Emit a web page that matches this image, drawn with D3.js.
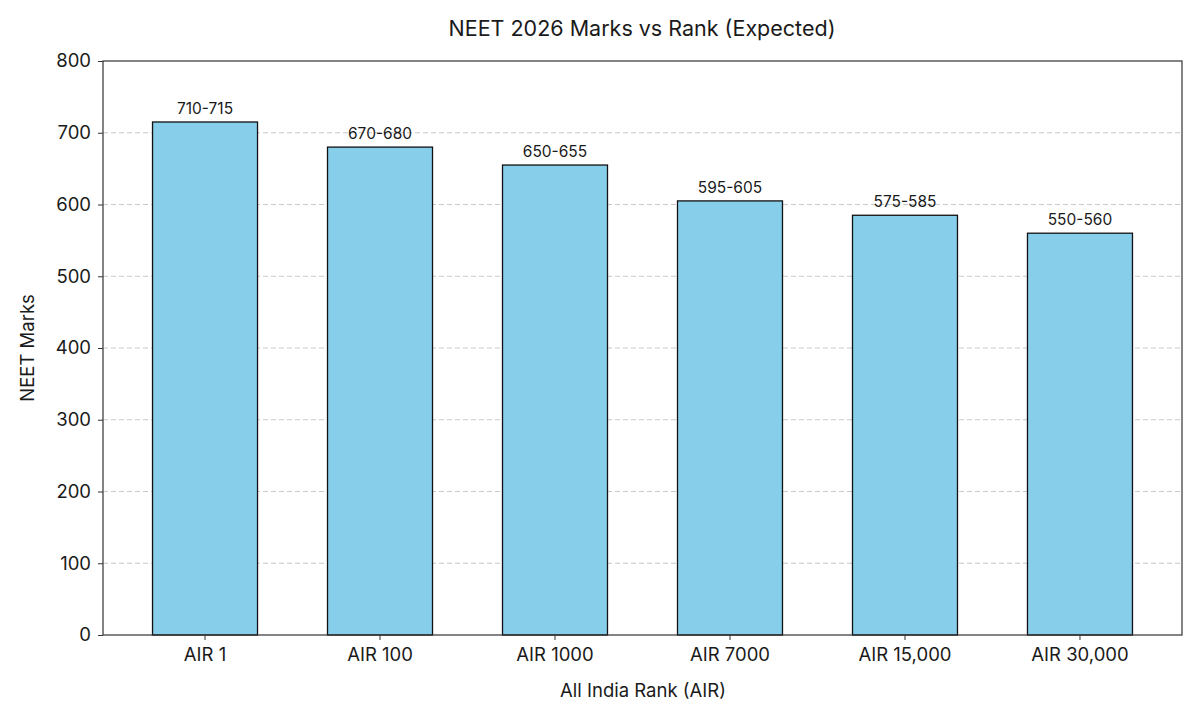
<!DOCTYPE html>
<html>
<head>
<meta charset="utf-8">
<script src="https://cdn.jsdelivr.net/npm/d3@7"></script>
<style>
  body { margin: 0; background: #fff; }
  text { font-family: Inter, "Open Sans", sans-serif; fill: #1a1a1a; }
</style>
</head>
<body>
<div id="chart"></div>
<script>
const width = 1200,
	height = 720;

const ranks = ['AIR 1', 'AIR 100', 'AIR 1000', 'AIR 7000', 'AIR 15,000', 'AIR 30,000'];
const marks = [715, 680, 655, 605, 585, 560];
const rangeLabels = ['710-715', '670-680', '650-655', '595-605', '575-585', '550-560'];
const yTicks = [0, 100, 200, 300, 400, 500, 600, 700, 800];

const m = {left: 103, right: 18, top: 61, bottom: 85};

const svg = d3.select('#chart').append('svg').attr('width', width).attr('height', height);

let x = d3.scaleBand().domain(ranks).range([m.left, width - m.right])
	.paddingInner(0.4).paddingOuter(0.283);
let y = d3.scaleLinear().domain([0, 800]).range([height - m.bottom, m.top]);

// grid
svg.append('g').selectAll('line').data(yTicks.filter(d => d > 0 && d < 800)).enter().append('line')
	.attr('x1', m.left).attr('x2', width - m.right)
	.attr('y1', d => y(d)).attr('y2', d => y(d))
	.attr('stroke', '#c8c8c8').attr('stroke-width', 1).attr('stroke-dasharray', '5,3');

// bars
svg.append('g').selectAll('rect').data(marks).enter().append('rect')
	.attr('x', (d, i) => x(ranks[i]))
	.attr('y', d => y(d))
	.attr('width', x.bandwidth())
	.attr('height', d => y(0) - y(d))
	.attr('fill', '#87CEEB').attr('stroke', '#111').attr('stroke-width', 1.3);

// value labels
svg.append('g').selectAll('text').data(marks).enter().append('text')
	.attr('x', (d, i) => x(ranks[i]) + x.bandwidth() / 2)
	.attr('y', d => y(d) - 8)
	.attr('text-anchor', 'middle').attr('font-size', 15.5)
	.text((d, i) => rangeLabels[i]);

// frame
svg.append('rect')
	.attr('x', m.left).attr('y', m.top)
	.attr('width', width - m.right - m.left).attr('height', height - m.bottom - m.top)
	.attr('fill', 'none').attr('stroke', '#333').attr('stroke-width', 1.2);

// axes
let yAxis = svg.append('g').attr('transform', `translate(${m.left},0)`)
	.call(d3.axisLeft(y).tickValues(yTicks).tickSize(5).tickPadding(7));
let xAxis = svg.append('g').attr('transform', `translate(0,${height - m.bottom})`)
	.call(d3.axisBottom(x).tickSize(5).tickPadding(8));
[yAxis, xAxis].forEach(a => {
	a.select('.domain').remove();
	a.selectAll('line').attr('stroke', '#333');
	a.selectAll('text').attr('font-size', 18.5).attr('fill', '#1a1a1a')
		.style('font-family', 'Inter, "Open Sans", sans-serif');
});

// titles
svg.append('text').attr('x', 642).attr('y', 36).attr('text-anchor', 'middle')
	.attr('font-size', 21.5).text('NEET 2026 Marks vs Rank (Expected)');
svg.append('text').attr('x', 643).attr('y', 697).attr('text-anchor', 'middle')
	.attr('font-size', 18.5).text('All India Rank (AIR)');
svg.append('text').attr('transform', 'translate(34,348) rotate(-90)').attr('text-anchor', 'middle')
	.attr('font-size', 18.5).text('NEET Marks');
</script>
</body>
</html>
